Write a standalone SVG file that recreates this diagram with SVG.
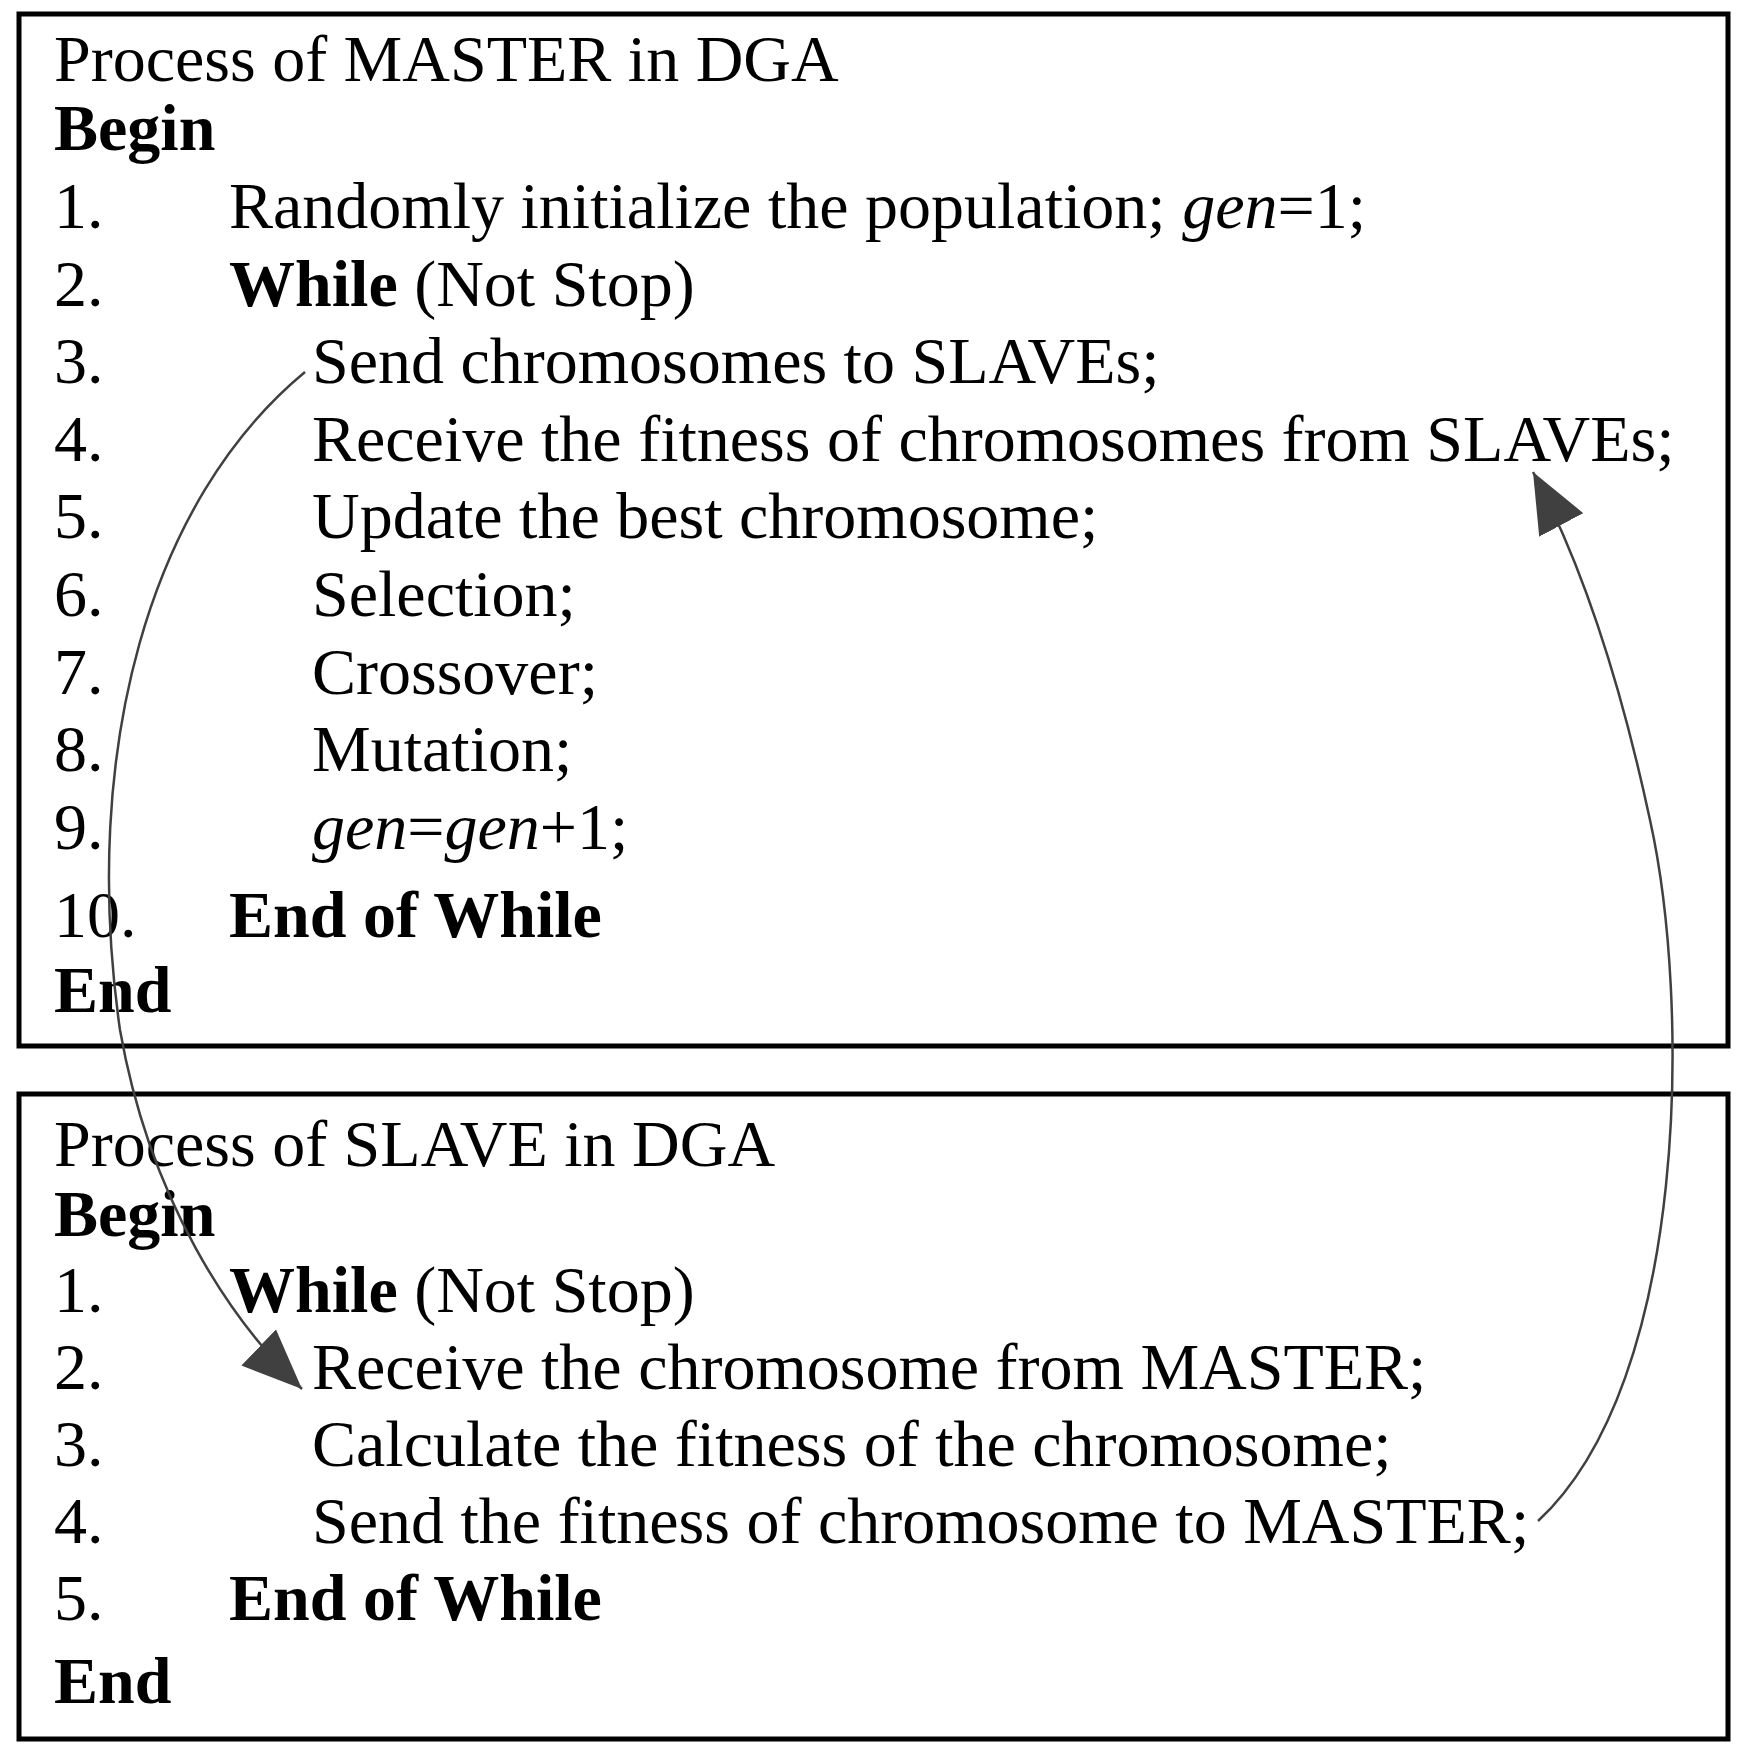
<svg xmlns="http://www.w3.org/2000/svg" width="1747" height="1760" viewBox="0 0 1747 1760">
<style>
text{font-family:"Liberation Serif","Times New Roman",serif;font-size:66px;fill:#000}
.b{font-weight:bold}
.box{fill:#fff;stroke:#000;stroke-width:5}
.c{fill:none;stroke:#404040;stroke-width:2.5}
</style>
<defs>
<marker id="a" viewBox="0 0 12 10" refX="12" refY="5" markerWidth="60" markerHeight="50" markerUnits="userSpaceOnUse" orient="auto"><path d="M0,0L12,5L0,10z" fill="#404040"/></marker></defs>
<g id="master">
<rect class="box" x="19" y="14" width="1709" height="1032"/>
<text x="54" y="81">Process of MASTER in DGA</text>
<text x="54" y="150" class="b">Begin</text>
<text x="54" y="228">1.</text><text x="229" y="228">Randomly initialize the population; <tspan font-style="italic">gen</tspan>=1;</text>
<text x="54" y="306">2.</text><text x="229" y="306"><tspan class="b">While</tspan> (Not Stop)</text>
<text x="54" y="383">3.</text><text x="312" y="383">Send chromosomes to SLAVEs;</text>
<text x="54" y="461">4.</text><text x="312" y="461">Receive the fitness of chromosomes from SLAVEs;</text>
<text x="54" y="538">5.</text><text x="312" y="538">Update the best chromosome;</text>
<text x="54" y="616">6.</text><text x="312" y="616">Selection;</text>
<text x="54" y="694">7.</text><text x="312" y="694">Crossover;</text>
<text x="54" y="771">8.</text><text x="312" y="771">Mutation;</text>
<text x="54" y="849">9.</text><text x="312" y="849"><tspan font-style="italic">gen</tspan>=<tspan font-style="italic">gen</tspan>+1;</text>
<text x="54" y="937">10.</text><text x="229" y="937" class="b">End of While</text>
<text x="54" y="1012" class="b">End</text>
</g>
<g id="slave">
<rect class="box" x="19" y="1094" width="1709" height="645"/>
<text x="54" y="1166">Process of SLAVE in DGA</text>
<text x="54" y="1236" class="b">Begin</text>
<text x="54" y="1312">1.</text><text x="229" y="1312"><tspan class="b">While</tspan> (Not Stop)</text>
<text x="54" y="1389">2.</text><text x="312" y="1389">Receive the chromosome from MASTER;</text>
<text x="54" y="1466">3.</text><text x="312" y="1466">Calculate the fitness of the chromosome;</text>
<text x="54" y="1543">4.</text><text x="312" y="1543">Send the fitness of chromosome to MASTER;</text>
<text x="54" y="1620">5.</text><text x="229" y="1620" class="b">End of While</text>
<text x="54" y="1703" class="b">End</text>
</g>
<g id="connectors">
<path class="c" d="M305,372 C150,500 80,750 120,1030 C150,1200 230,1320 302,1389" marker-end="url(#a)"/>
<path class="c" d="M1538,1521 C1690,1380 1690,1000 1650,820 C1620,680 1580,560 1533,472" marker-end="url(#a)"/>
</g>
</svg>
